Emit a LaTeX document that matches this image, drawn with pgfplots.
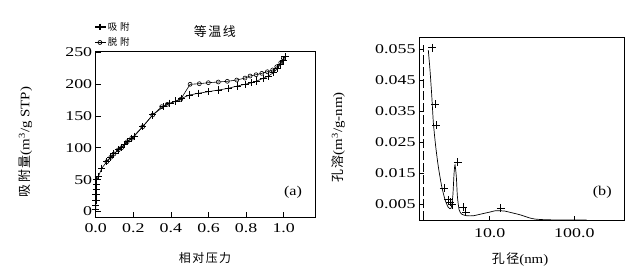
\documentclass[border=0pt]{standalone}
\usepackage{fontspec}
\usepackage{graphicx}
\usepackage{pgfplots}
\pgfplotsset{compat=1.18}
\setmainfont{Liberation Serif}
\newfontfamily\cjk[LetterSpace=12]{Noto Sans CJK SC}
\newfontfamily\cjkwide[LetterSpace=30]{Noto Sans CJK SC}
\newcommand\tl[1]{\mbox{\scalebox{1.33}[1]{#1}}}
\begin{document}
\begin{tikzpicture}
\useasboundingbox (0,0) rectangle (641bp,280bp);
\pgfplotsset{
  every axis/.append style={
    scale only axis,
    axis line style={line width=0.8pt},
    tick align=inside, tick pos=left,
    major tick length=5bp,
    tick style={line width=0.6pt, black},
    tick label style={font=\fontsize{13.5}{15}\selectfont},
    /pgf/number format/assume math mode=true,
    scaled ticks=false,
  }
}
% ---------------- (a) isotherm ----------------
\begin{axis}[
  at={(95.7bp,63bp)}, anchor=south west,
  width=220bp, height=166bp,
  xmin=0, xmax=1.17, ymin=-8.5, ymax=251.7,
  xtick={0,0.2,0.4,0.6,0.8,1.0},
  xticklabels={\tl{0.0},\tl{0.2},\tl{0.4},\tl{0.6},\tl{0.8},\tl{1.0}},
  xticklabel style={yshift=-3bp},
  ytick={0,50,100,150,200,250},
  yticklabels={\tl{0},\tl{50},\tl{100},\tl{150},\tl{200},\tl{250}},
  xlabel={{\cjk 相对压力}},
  xlabel style={font=\fontsize{12}{14}\selectfont, at={(axis description cs:0.497,-0.247)}, anchor=center},
  ylabel={{\cjk 吸附量}\scalebox{1.15}[1]{(m\textsuperscript{3}/g STP)}},
  ylabel style={font=\fontsize{13}{15}\selectfont, at={(axis description cs:-0.32,0.452)}, anchor=center},
  title={{\cjk 等温线}},
  title style={font=\fontsize{13}{15}\selectfont, at={(axis description cs:0.542,1.08)}, anchor=center},
  legend style={at={(axis description cs:-0.005,1.18)}, anchor=north west, draw=none, fill=none,
    font=\fontsize{9.5}{11}\selectfont\cjkwide, row sep=4bp, inner sep=0pt, nodes={inner sep=1bp}},
  legend cell align=left,
  legend image code/.code={\path (0,0) -- (0.38cm,0); \draw[#1] plot coordinates {(0.16cm,0cm)};},
]
\addlegendimage{only marks, mark=+, mark size=3.3bp, line width=1.2pt}
\addlegendentry{吸附}
\addlegendimage{only marks, mark=o, mark size=2bp, line width=0.7pt}
\addlegendentry{脱附}
\addplot[forget plot, black, line width=0.6pt, mark=o, mark size=2bp, mark options={line width=0.6pt}] coordinates {
(0.998,240.2)(0.984,233.3)(0.963,227)(0.941,221.9)(0.913,219.2)(0.883,216.7)(0.853,214.5)
(0.821,212.5)(0.794,209.3)(0.750,206.2)(0.700,204.2)(0.652,203.1)(0.599,202)(0.551,200.4)
(0.502,199.5)(0.452,176)(0.381,168.1)(0.351,164.4)(0.303,151.4)(0.25,133)(0.191,114.9)
(0.168,109.5)(0.138,100.1)(0.12,96.6)(0.097,90.3)(0.08,85.1)(0.059,78.2)
};
\addplot[forget plot, black, line width=0.6pt, mark=+, mark size=3.6bp, mark options={line width=1pt}] coordinates {
(0.001,3)(0.001,10)(0.002,18)(0.002,26)(0.003,34)(0.004,42)(0.005,50)(0.014,54.7)
(0.032,67.8)(0.059,78.2)(0.080,85.1)(0.097,90.3)(0.120,96.6)(0.138,100.1)(0.153,105)
(0.168,109.5)(0.191,114.9)(0.205,118)(0.25,133)(0.303,151.4)(0.360,164.4)(0.395,169.7)
(0.427,173.3)(0.457,177.5)(0.498,182.7)(0.546,185.4)(0.599,187.9)(0.652,190.5)(0.705,193.2)
(0.753,196.8)(0.794,199.5)(0.830,202)(0.856,204.6)(0.891,208.9)(0.918,212.5)(0.945,217.6)
(0.966,224.5)(0.984,231.3)(0.998,237.5)(1.007,242.7)
};
\node[font=\fontsize{13.5}{15}\selectfont] at (rel axis cs:0.897,0.146) {\scalebox{1.2}[1]{(a)}};
\end{axis}
% ---------------- (b) pore size distribution ----------------
\begin{axis}[
  at={(419bp,59.3bp)}, anchor=south west,
  width=205bp, height=183.4bp,
  xmode=log, xmin=1.46, xmax=386, ymin=-0.0002, ymax=0.0589,
  xtick={10,100}, xticklabels={\tl{10.0},\tl{100.0}},
  xminorticks=false,
  xticklabel style={yshift=-4bp},
  ytick={0.005,0.015,0.025,0.035,0.045,0.055},
  yticklabels={\tl{0.005},\tl{0.015},\tl{0.025},\tl{0.035},\tl{0.045},\tl{0.055}},
  xlabel={{\cjk 孔径}\scalebox{1.15}[1]{(nm)}},
  xlabel style={font=\fontsize{13}{15}\selectfont, at={(axis description cs:0.493,-0.214)}, anchor=center},
  ylabel={{\cjk 孔溶}\scalebox{1.15}[1]{(m\textsuperscript{3}/g-nm)}},
  ylabel style={font=\fontsize{13}{15}\selectfont, at={(axis description cs:-0.395,0.454)}, anchor=center},
]
\addplot[black, line width=0.6pt, dash pattern=on 9bp off 3bp] coordinates {(1.62,0) (1.62,0.0565)};
\addplot[black, line width=0.7pt, smooth, tension=0.4] coordinates {
(1.88,0.0548)(1.97,0.0483)(2.07,0.0397)(2.16,0.0312)(2.30,0.0237)(2.47,0.0172)(2.71,0.0108)
(2.97,0.0065)(3.24,0.0041)(3.49,0.0038)(3.66,0.0076)(3.79,0.0151)(3.89,0.0178)(4.03,0.0140)
(4.15,0.0076)(4.35,0.0033)(4.67,0.0019)(5.35,0.0014)(6.40,0.0014)(8.05,0.0020)(10.1,0.0026)
(11.6,0.0030)(13.5,0.0030)(15.1,0.0029)(18,0.0024)(22.8,0.0017)(29.9,0.00066)(35,0.0003)
(47,0.0001)(80,0.00002)(140,0.0)
};
\addplot[black, only marks, mark=+, mark size=4bp, mark options={line width=0.9pt}] coordinates {
(2.08,0.0555)(2.28,0.0374)(2.34,0.0305)(2.88,0.0103)(3.22,0.0065)(3.43,0.0058)(3.61,0.005)
(4.19,0.0186)(4.84,0.0041)(5.21,0.0025)(13.5,0.0038)
};
\node[font=\fontsize{13.5}{15}\selectfont] at (rel axis cs:0.894,0.153) {\scalebox{1.2}[1]{(b)}};
\end{axis}
\end{tikzpicture}
\end{document}
